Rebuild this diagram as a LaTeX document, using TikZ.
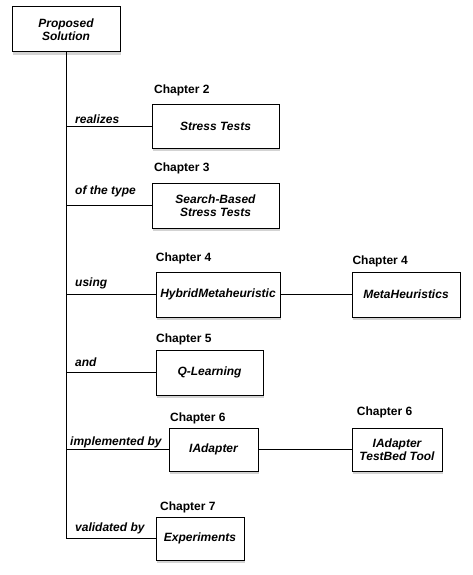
\documentclass[tikz,border=0pt]{standalone}
\usepackage{fontspec}
\setmainfont{Liberation Sans}
\usetikzlibrary{shadows}

\begin{document}
\begin{tikzpicture}[x=1pt, y=-1pt,
    box/.style={draw, line width=1pt, fill=white, align=center, inner sep=0pt,
        font=\fontsize{12}{13.5}\selectfont\bfseries\itshape,
        drop shadow={shadow xshift=1pt, shadow yshift=-3pt, opacity=0.35}},
    chap/.style={anchor=west, inner sep=0pt, font=\fontsize{12}{14}\selectfont\bfseries},
    rel/.style={anchor=west, inner sep=0pt, font=\fontsize{12}{14}\selectfont\bfseries\itshape}]
    \useasboundingbox (0,0) rectangle (472,575);

    % boxes: name/x/y/width/height/text
    \foreach \nm/\cx/\cy/\w/\h/\txt in {
        sol/66/29.5/108/45/{Proposed\\Solution},
        stress/215.5/126.5/127/43/{Stress Tests},
        sbst/215.5/205.5/127/45/{Search-Based\\Stress Tests},
        hybrid/218/294.5/124/45/{HybridMetaheuristic},
        meta/406/294.5/108/45/{MetaHeuristics},
        qlearn/209.5/372.5/107/45/{Q-Learning},
        iadapt/213.5/449.5/89/43/{IAdapter},
        testbed/397/449.5/90/43/{IAdapter\\TestBed Tool},
        exper/200/538.5/88/43/{Experiments}} {
        \node[box, minimum width=\w, minimum height=\h] (\nm) at (\cx,\cy) {\txt};
    }

    \draw[line width=1pt] (sol.south) |- (exper.west);
    \foreach \nm in {stress, sbst, hybrid, qlearn, iadapt} {
        \draw[line width=1pt] (sol.south |- \nm.west) -- (\nm.west);
    }
    \draw[line width=1pt] (hybrid.east) -- (meta.west);
    \draw[line width=1pt] (iadapt.east) -- (testbed.west);

    % chapter labels
    \foreach \nm/\lx/\ly/\txt in {
        ch2/154/90/{Chapter 2},
        ch3/154/168.3/{Chapter 3},
        ch4a/155.7/258/{Chapter 4},
        ch4b/352.3/261/{Chapter 4},
        ch5/156/339/{Chapter 5},
        ch6a/170/418/{Chapter 6},
        ch6b/356.7/412/{Chapter 6},
        ch7/160/507/{Chapter 7}} {
        \node[chap] (\nm) at (\lx,\ly) {\txt};
    }

    % relation labels
    \foreach \nm/\lx/\ly/\txt in {
        realizes/75/119/{realizes},
        oftype/75/191.7/{of the type},
        using/75/283.5/{using},
        and/75/362.5/{and},
        implby/70/442.5/{implemented by},
        valby/75/528.5/{validated by}} {
        \node[rel] (\nm) at (\lx,\ly) {\txt};
    }
\end{tikzpicture}
\end{document}
